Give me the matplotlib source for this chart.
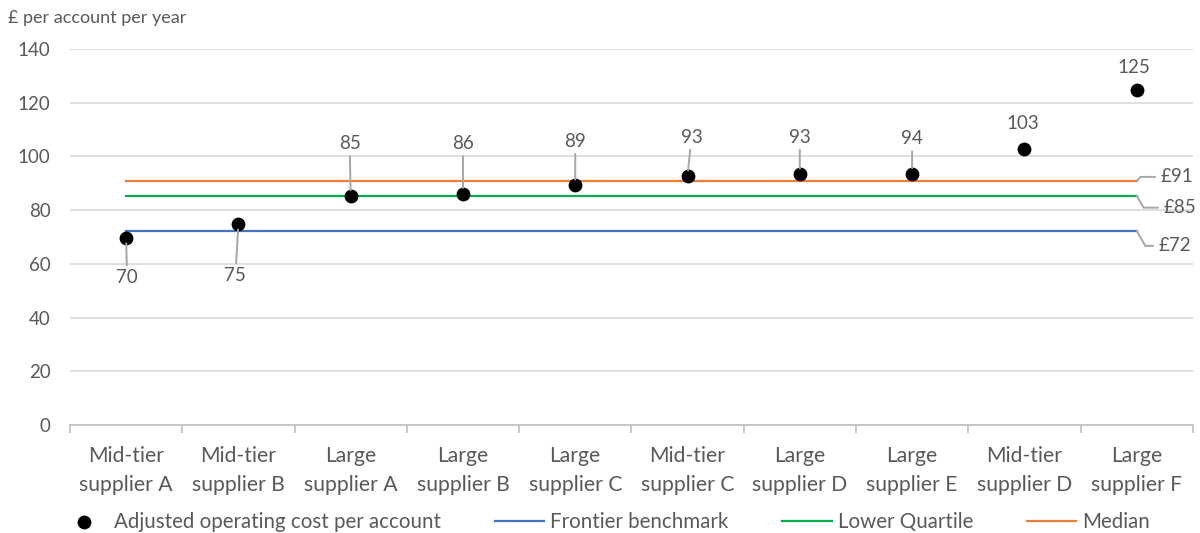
import matplotlib
matplotlib.use("Agg")
import matplotlib.pyplot as plt
import numpy as np

plt.rcParams['font.family'] = ['Lato', 'DejaVu Sans']

# Suppliers in ranked order
categories = ["Mid-tier\nsupplier A", "Mid-tier\nsupplier B", "Large\nsupplier A",
              "Large\nsupplier B", "Large\nsupplier C", "Mid-tier\nsupplier C",
              "Large\nsupplier D", "Large\nsupplier E", "Mid-tier\nsupplier D",
              "Large\nsupplier F"]
# Adjusted operating cost per account (£ per account per year)
costs = [69.7, 74.9, 85.4, 86.2, 89.3, 92.7, 93.4, 93.6, 102.8, 124.6]
# Benchmarks
frontier = 72.3
lower_quartile = 85.4
median = 90.9
yticks = [0, 20, 40, 60, 80, 100, 120, 140]

TEXT = "#595959"
GRID = "#d9d9d9"
LEADER = "#a6a6a6"
BLUE, GREEN, ORANGE = "#4472C4", "#00B050", "#ED7D31"
FS_TICK = 13.5
FS_CAT = 15.2
FS_LEG = 14.8

fig = plt.figure(figsize=(12, 5.33), dpi=100)
ax = fig.add_axes([0.0583, 0.2026, 0.9357, 0.7054])

x = np.arange(len(categories))
ax.set_xlim(-0.5, len(categories) - 0.5)
ax.set_ylim(0, 140)

ax.set_yticks(yticks)
ax.yaxis.grid(True, color=GRID, linewidth=1.2)
ax.set_axisbelow(True)
for s in ["top", "right", "left"]:
    ax.spines[s].set_visible(False)
ax.spines["bottom"].set_color("#bfbfbf")
ax.spines["bottom"].set_linewidth(1.2)
ax.tick_params(axis="y", length=0, labelsize=FS_TICK, labelcolor=TEXT, pad=14)

ax.set_xticks(x)
ax.set_xticklabels(categories, fontsize=FS_CAT, color=TEXT, linespacing=1.6)
ax.set_xticks(np.arange(-0.5, len(categories), 1.0), minor=True)
ax.tick_params(axis="x", which="major", length=0, pad=15)
ax.tick_params(axis="x", which="minor", length=6, color="#bfbfbf", width=1.2)

lw = 1.6
ax.plot(x, [frontier] * len(x), color=BLUE, lw=lw, label="Frontier benchmark", zorder=2)
ax.plot(x, [lower_quartile] * len(x), color=GREEN, lw=lw, label="Lower Quartile", zorder=2)
ax.plot(x, [median] * len(x), color=ORANGE, lw=lw, label="Median", zorder=2)
ax.scatter(x, costs, s=80, color="black", zorder=4,
           label="Adjusted operating cost per account")

# Data labels (offsets in pixels from each point)
offsets = [(1, -40), (-3, -52), (-1, 52), (0, 50), (0, 44), (4, 39),
           (0, 37), (0, 35), (-2, 25), (-3, 23)]
for xi, v, (dx, dy) in zip(x, costs, offsets):
    leader = abs(dy) > 30
    ax.annotate(f"{v:.0f}", xy=(xi, v), xytext=(dx, dy), textcoords="offset pixels",
                ha="center", va="center", fontsize=FS_TICK, color=TEXT,
                arrowprops=dict(arrowstyle="-", color=LEADER, lw=1.4,
                                shrinkA=1, shrinkB=4) if leader else None,
                zorder=5)

# Benchmark end labels
end_labels = [(median, "£91", (24, 4), 45), (lower_quartile, "£85", (27, -12), -60),
              (frontier, "£72", (22, -15), -60)]
for val, txt, (dx, dy), ang in end_labels:
    ax.annotate(txt, xy=(x[-1], val), xytext=(dx, dy), textcoords="offset pixels",
                ha="left", va="center", fontsize=FS_TICK, color=TEXT,
                arrowprops=dict(arrowstyle="-", color=LEADER, lw=1.4,
                                shrinkA=2, shrinkB=0, relpos=(0, 0.5),
                                connectionstyle=f"angle,angleA=0,angleB={ang},rad=0"),
                annotation_clip=False)

fig.text(0.007, 0.966, "£ per account per year", fontsize=13, color=TEXT,
         ha="left", va="center")

handles, labels = ax.get_legend_handles_labels()
order = [3, 0, 1, 2]
leg = fig.legend([handles[i] for i in order], [labels[i] for i in order],
                 loc="center left", bbox_to_anchor=(59 / 1200, 0.021), ncol=4,
                 frameon=False, fontsize=FS_LEG, handlelength=2.4, columnspacing=2.6,
                 handletextpad=0.3, borderpad=0, borderaxespad=0, markerscale=1.0)
for t in leg.get_texts():
    t.set_color(TEXT)

fig.savefig("out.png", dpi=100)
